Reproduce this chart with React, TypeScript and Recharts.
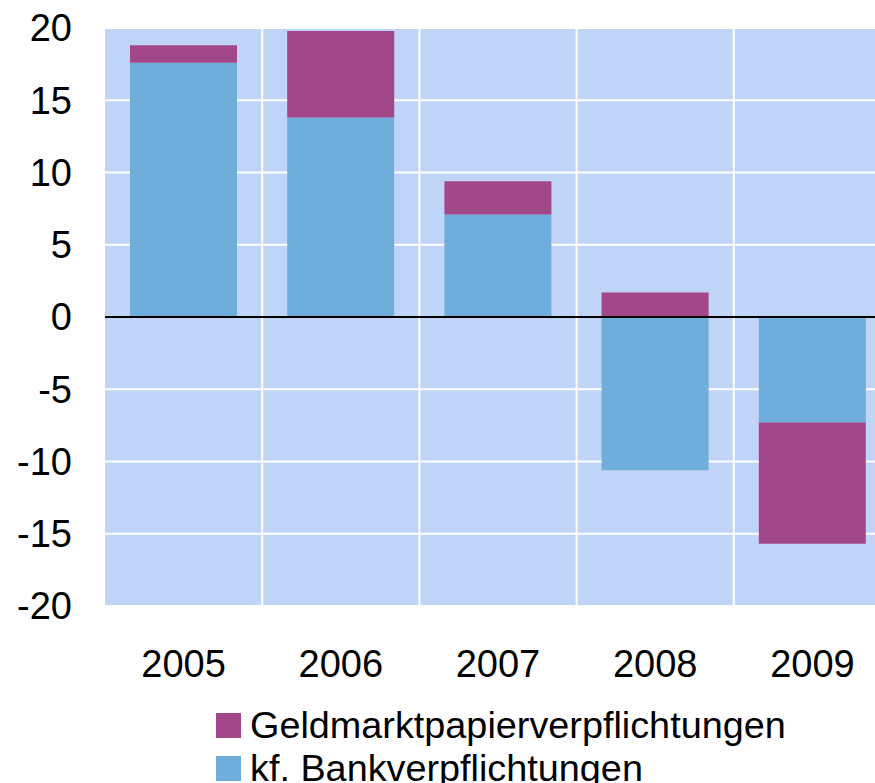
import React from "react";
import {
  BarChart,
  Bar,
  XAxis,
  YAxis,
  CartesianGrid,
  ReferenceLine,
  Legend,
} from "recharts";

const years = ["2005", "2006", "2007", "2008", "2009"];
const bankValues = [17.6, 13.8, 7.1, -10.6, -7.3];
const geldmarktValues = [1.2, 6.0, 2.3, 1.7, -8.4];
const yTicks = [-20, -15, -10, -5, 0, 5, 10, 15, 20];

const GELD_NAME = "Geldmarktpapierverpflichtungen";
const BANK_NAME = "kf. Bankverpflichtungen";
const MAGENTA = "#A2478A";
const BLUE = "#6FADDA";
const BG = "#C0D4F8";
const FONT = "'Liberation Sans', Arial, sans-serif";

const data = years.map((y, i) => ({
  year: y,
  bank: bankValues[i],
  geld: geldmarktValues[i],
}));

const legendItems = [
  { name: GELD_NAME, color: MAGENTA },
  { name: BANK_NAME, color: BLUE },
];

const LegendContent = () => (
  <div style={{ fontFamily: FONT, fontSize: 37.8, color: "#000" }}>
    {legendItems.map((it) => (
      <div
        key={it.name}
        style={{ display: "flex", alignItems: "center", height: 43, whiteSpace: "nowrap" }}
      >
        <span
          style={{
            display: "inline-block",
            width: 25,
            height: 25,
            background: it.color,
            marginRight: 9,
          }}
        />
        <span>{it.name}</span>
      </div>
    ))}
  </div>
);

const verticalGen = ({ offset }: any) => {
  const pts: number[] = [];
  const n = years.length;
  for (let i = 1; i < n; i++) {
    pts.push(offset.left + (i * offset.width) / n);
  }
  return pts;
};

export default function App() {
  return (
    <div
      style={{
        position: "absolute",
        left: 0,
        top: 0,
        width: 875,
        height: 783,
        overflow: "hidden",
        background: "#fff",
      }}
    >
      <BarChart
        width={891}
        height={783}
        data={data}
        stackOffset="sign"
        margin={{ top: 28, right: 0, bottom: 97, left: 0 }}
      >
        <CartesianGrid
          fill={BG}
          stroke="#FFFFFF"
          strokeWidth={2}
          verticalCoordinatesGenerator={verticalGen}
        />
        <XAxis
          dataKey="year"
          axisLine={false}
          tickLine={false}
          tickSize={0}
          tickMargin={44}
          height={80}
          interval={0}
          tick={{ fill: "#000", fontSize: 38, fontFamily: FONT }}
        />
        <YAxis
          domain={[-20, 20]}
          ticks={yTicks}
          interval={0}
          axisLine={false}
          tickLine={false}
          tickSize={0}
          tickMargin={33}
          width={105}
          tick={{ fill: "#000", fontSize: 38, fontFamily: FONT }}
        />
        <Bar
          dataKey="bank"
          name={BANK_NAME}
          stackId="a"
          fill={BLUE}
          barSize={107}
          isAnimationActive={false}
        />
        <Bar
          dataKey="geld"
          name={GELD_NAME}
          stackId="a"
          fill={MAGENTA}
          barSize={107}
          isAnimationActive={false}
        />
        <ReferenceLine y={0} stroke="#000" strokeWidth={2} />
        <Legend
          layout="horizontal"
          verticalAlign="middle"
          align="center"
          content={<LegendContent />}
          wrapperStyle={{ left: 216, top: 704, width: "auto", height: "auto" }}
        />
      </BarChart>
    </div>
  );
}
